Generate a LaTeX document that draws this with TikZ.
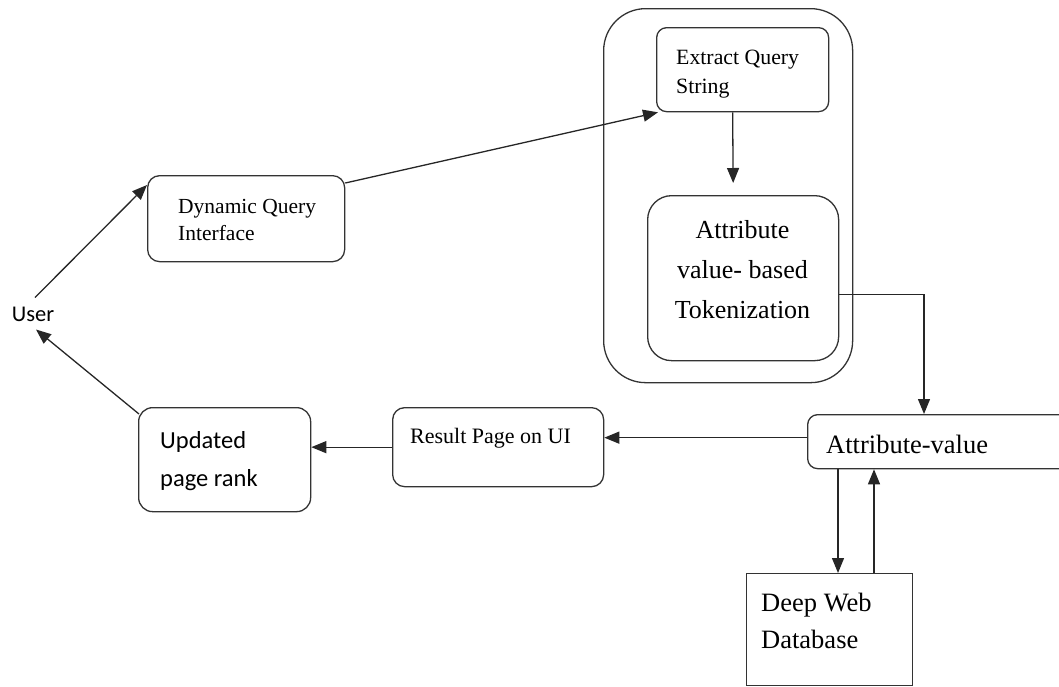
\documentclass[tikz,border=0pt]{standalone}
\usepackage{fontspec}
\setmainfont{Liberation Serif}
\newfontfamily\calibrilike{Carlito}
\usetikzlibrary{arrows.meta,calc}

\tikzset{
  box/.style={draw=black!80, line width=1.3pt, inner sep=0pt, anchor=north west},
  txt/.style={inner sep=0pt, anchor=base west, text=black},
  arr/.style={draw=black!85, line width=1.3pt, -{Triangle[length=15pt,width=12pt]}},
}

\begin{document}
\begin{tikzpicture}[x=1pt,y=-1pt]
  \useasboundingbox (0,0) rectangle (1059,686);

  % processing group
  \node[box, rounded corners=42pt, minimum width=249pt, minimum height=374pt] (group) at (603,8) {};
  \node[box, rounded corners=10pt, minimum width=172pt, minimum height=84pt] (extract) at (656,27) {};
  \node[box, rounded corners=24pt, minimum width=191pt, minimum height=165pt] (token) at (647,195) {};

  % other blocks
  \node[box, rounded corners=12pt, minimum width=197pt, minimum height=86pt] (dqi) at (147,175) {};
  \node[box, rounded corners=14pt, minimum width=172pt, minimum height=104pt] (upr) at (138,407) {};
  \node[box, rounded corners=12pt, minimum width=211pt, minimum height=79pt] (rp) at (392,407) {};
  \node[box, rounded corners=10pt, minimum width=270pt, minimum height=54pt] (av) at (807,414) {};
  \node[box, minimum width=166pt, minimum height=112pt] (ddb) at (746,573) {};

  % labels
  \node[txt, font=\fontsize{21.8}{25}\selectfont] (extractA) at (676,64) {Extract Query};
  \node[txt, font=\fontsize{21.8}{25}\selectfont] (extractB) at (676,93) {String};
  \node[inner sep=0pt, align=center, font=\fontsize{26}{40}\selectfont] (tokentxt) at (742.5,270) {Attribute\\value- based\\Tokenization};
  \node[txt, font=\fontsize{21.5}{25}\selectfont] (dqiA) at (178,213) {Dynamic Query};
  \node[txt, font=\fontsize{21.5}{25}\selectfont] (dqiB) at (178,240) {Interface};
  \node[txt, font=\calibrilike\fontsize{24.5}{27}\selectfont] (uprA) at (160,448) {Updated};
  \node[txt, font=\calibrilike\fontsize{24.5}{27}\selectfont] (uprB) at (160,486) {page rank};
  \node[txt, font=\fontsize{22}{25}\selectfont] (rptxt) at (410,443) {Result Page on UI};
  \node[txt, font=\fontsize{26.5}{30}\selectfont] (avtxt) at (826,453) {Attribute-value};
  \node[txt, font=\fontsize{26.5}{30}\selectfont] (ddbA) at (761,611) {Deep Web};
  \node[txt, font=\fontsize{26.5}{30}\selectfont] (ddbB) at (761,648) {Database};
  \node[inner sep=0pt, font=\calibrilike\fontsize{22.5}{25}\selectfont] (user) at (33,314) {User};

  % connectors
  \draw[arr] ($(user.north)+(2,-9)$) -- ($(dqi.north west)+(0,10)$);
  \draw[arr] ($(dqi.north east)+(0,8)$) -- ($(extract.south west)+(2,0)$);
  \draw[arr] ($(extract.south)+(-10,0)$) -- ($(token.north)+(-10,-12)$);
  \draw[arr] ($(token.east)+(0,16.5)$) -| ($(av.north west)+(117,0)$);
  \draw[arr] ($(av.west)+(0,-4)$) -- ($(rp.east)+(0,-9.5)$);
  \draw[arr] (rp.west) -- (upr.east |- rp.west);
  \draw[arr] ($(upr.north west)+(1,7)$) -- ($(user.south)+(3,8)$);
  \draw[arr] ($(av.south west)+(31,0)$) -- ($(ddb.north west)+(92,0)$);
  \draw[arr] ($(ddb.north west)+(128,0)$) -- ($(av.south west)+(67,0)$);
\end{tikzpicture}
\end{document}
